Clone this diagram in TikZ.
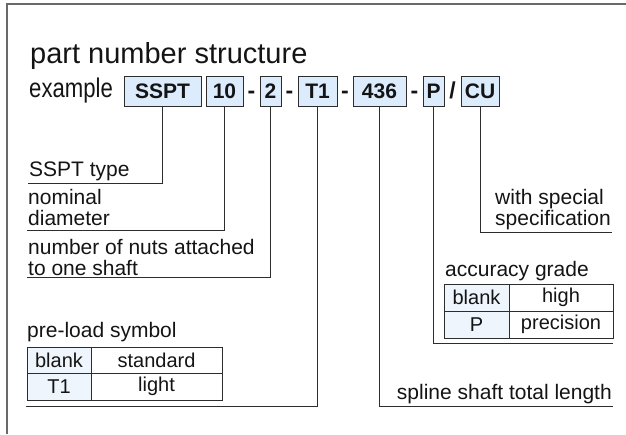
\documentclass[tikz,border=0pt]{standalone}
\usepackage{fontspec}
\setmainfont{Liberation Sans}
\usetikzlibrary{positioning,calc}
\definecolor{partfill}{RGB}{220,236,252}
\definecolor{cellfill}{RGB}{238,245,252}
\definecolor{linegray}{RGB}{45,45,45}
\definecolor{framegray}{RGB}{105,105,105}
\newcommand{\fsz}[1]{\fontsize{#1}{#1}\selectfont}

\begin{document}
\begin{tikzpicture}[
		x=1pt, y=-1pt,
		every node/.style={text=black!92},
		partbox/.style={draw=linegray, fill=partfill, line width=0.9pt, anchor=north west,
				minimum height=30pt, inner sep=0pt, outer sep=0pt, font=\fsz{21}\bfseries},
		sep/.style={font=\fsz{23}\bfseries, anchor=base, inner sep=0pt},
		conn/.style={draw=linegray, line width=1pt},
		lbl/.style={inner sep=0pt, align=left, font=\fsz{21}},
		cell/.style={draw=linegray, line width=0.9pt, minimum height=26.5pt,
				inner sep=0pt, outer sep=0pt, font=\fsz{20}},
	]
	\useasboundingbox (0,0) rectangle (626,434);
	\draw[framegray, line width=1.5pt] (7,434) -- (7,4) -- (626,4);

	\node[anchor=base west, inner sep=0pt, font=\fsz{29}] (title) at (30,63) {part number structure};
	\node[anchor=base west, inner sep=0pt, font=\fsz{27}] (example) at (29,97) {\scalebox{0.82}[1]{example}};

	% part number
	\node[partbox, minimum width=77pt] (bSSPT) at (124,76) {SSPT};
	\node[partbox, minimum width=37pt] (b10) at (206,76) {10};
	\node[partbox, minimum width=21pt] (b2) at (260,76) {2};
	\node[partbox, minimum width=39pt] (bT1) at (298,76) {T1};
	\node[partbox, minimum width=53pt] (b436) at (353,76) {436};
	\node[partbox, minimum width=21pt] (bP) at (423,76) {P};
	\node[partbox, minimum width=38pt] (bCU) at (461,76) {CU};
	\foreach \a/\b in {b10/b2, b2/bT1, bT1/b436, b436/bP} {
			\node[sep] (sep-\a) at ($(\a.base east)!.5!(\b.base west)$) {-};
		}
	\node[sep] (slash) at ($(bP.base east)!.5!(bCU.base west)$) {/};

	\coordinate (eSSPT) at (28,183);
	\coordinate (e10) at (27,230);
	\coordinate (e2) at (27,277);
	\coordinate (eT1) at (26,406);
	\coordinate (e436) at (613,406);
	\coordinate (eP) at (613,343);
	\coordinate (eCU) at (612,232);
	\foreach \n in {SSPT,10,2,T1,436,P,CU} {
			\draw[conn] (b\n.south) |- (e\n);
		}

	\node[lbl, above right=1.5pt and 1pt of eSSPT] (lSSPT) {SSPT type};
	\node[lbl, above right=4pt and 1pt of e10] (l10) {nominal\\diameter};
	\node[lbl, above right=1.3pt and 1pt of e2] (l2) {number of nuts attached\\to one shaft};
	\node[lbl, above left=1.5pt and 1pt of eCU] (lCU) {with special\\specification};
	\node[lbl, above left=1.5pt and 1pt of e436] (l436) {spline shaft total length};

	% pre-load symbol
	\node[cell, fill=cellfill, minimum width=64pt, anchor=north west] (plA) at (27,347) {blank};
	\node[cell, minimum width=131pt, right=0pt of plA] (plB) {standard};
	\node[cell, fill=cellfill, minimum width=64pt, below=0pt of plA] (plC) {T1};
	\node[cell, minimum width=131pt, right=0pt of plC] (plD) {light};
	\node[lbl, above right=4.5pt and 0pt of plA.north west] (plTitle) {pre-load symbol};

	% accuracy grade
	\node[cell, fill=cellfill, minimum width=65pt, minimum height=27pt, anchor=north west] (agA) at (444,284) {blank};
	\node[cell, minimum width=104pt, minimum height=27pt, right=0pt of agA] (agB) {high};
	\node[cell, fill=cellfill, minimum width=65pt, minimum height=27pt, below=0pt of agA] (agC) {P};
	\node[cell, minimum width=104pt, minimum height=27pt, right=0pt of agC] (agD) {precision};
	\node[lbl, above right=2.6pt and 1pt of agA.north west] (agTitle) {accuracy grade};
\end{tikzpicture}
\end{document}
